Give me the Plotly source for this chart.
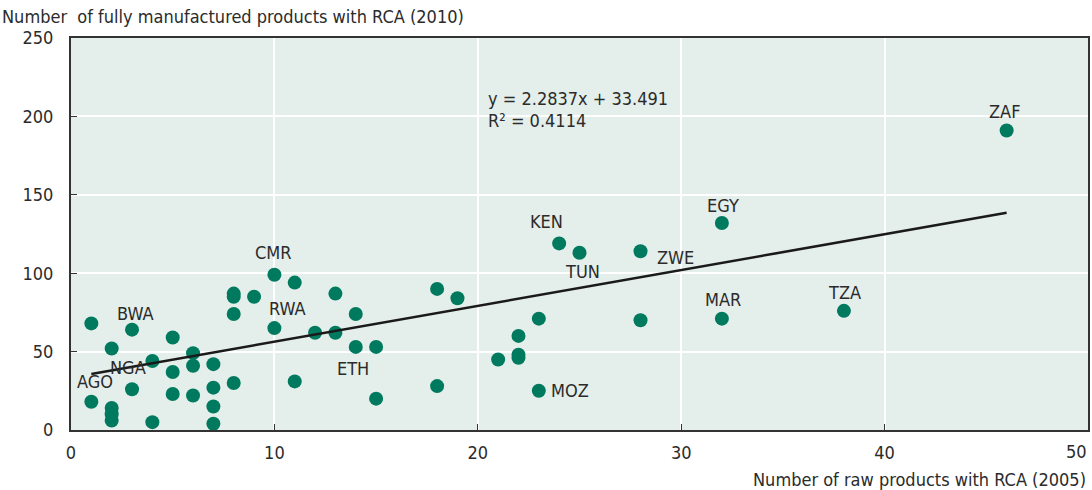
import plotly.graph_objects as go

# Raw products with RCA (2005) vs fully manufactured products with RCA (2010)
raw_2005 = [1, 3, 2, 5, 6, 4, 7, 6, 5, 1, 3, 2, 2, 2, 4, 5, 6, 7, 7, 7,
            8, 8, 8, 8, 9, 10, 10, 11, 11, 12, 13, 13, 14, 14, 15, 15,
            18, 19, 18, 21, 22, 22, 22, 23, 23, 24, 25, 28, 28, 32, 32, 38, 46]
manuf_2010 = [68, 64, 52, 59, 49, 44, 42, 41, 37, 18, 26, 14, 10, 6, 5, 23, 22, 27, 15, 4,
              30, 87, 85, 74, 85, 65, 99, 31, 94, 62, 62, 87, 74, 53, 53, 20,
              90, 84, 28, 45, 48, 46, 60, 71, 25, 119, 113, 114, 70, 132, 71, 76, 191]

# Axis ticks
x_ticks = [0, 10, 20, 30, 40, 50]
y_ticks = [0, 50, 100, 150, 200, 250]

# Country labels and where each one is written
label_text = ["AGO", "NGA", "BWA", "CMR", "RWA", "ETH", "KEN", "TUN", "ZWE",
              "MOZ", "EGY", "MAR", "TZA", "ZAF"]
label_x = [1.2, 2.8, 3.15, 9.96, 10.65, 13.84, 23.36, 25.17, 29.7,
           24.55, 32.04, 32.04, 38.03, 45.9]
label_y = [31.2, 40, 74.6, 112.9, 77.8, 39.5, 132.7, 100.8, 109.7,
           25.5, 142.9, 83.5, 87.4, 203.4]

# Linear fit reported on the chart
slope, intercept, r2 = 2.2837, 33.491, 0.4114
fit_x = [1, 46]
fit_y = [slope * v + intercept for v in fit_x]

FONT = "DejaVu Sans Condensed, Liberation Sans Narrow, Arial Narrow, sans-serif"
FS = 18
TEXT = "#2b2b2b"
GREEN = "#007a5f"

fig = go.Figure()
fig.add_trace(go.Scatter(
    x=raw_2005, y=manuf_2010, mode="markers",
    marker=dict(size=14, color=GREEN, line=dict(width=0)),
    hoverinfo="x+y", showlegend=False,
))
fig.add_trace(go.Scatter(
    x=fit_x, y=fit_y, mode="lines",
    line=dict(color="#1a1a1a", width=2.5), hoverinfo="skip", showlegend=False,
))

for t, lx, ly in zip(label_text, label_x, label_y):
    fig.add_annotation(x=lx, y=ly, text=t, showarrow=False,
                       font=dict(family=FONT, size=FS, color=TEXT))

fig.add_annotation(x=20.4, y=211.5, text=f"y = {slope}x + {intercept}",
                   xanchor="left", showarrow=False,
                   font=dict(family=FONT, size=FS, color=TEXT))
fig.add_annotation(x=20.4, y=197.5, text=f"R² = {r2}",
                   xanchor="left", showarrow=False,
                   font=dict(family=FONT, size=FS, color=TEXT))

fig.add_annotation(xref="paper", yref="paper", x=-71 / 1019, y=1 + 21 / 392,
                   xanchor="left", yanchor="middle",
                   text="Number  of fully manufactured products with RCA (2010)",
                   showarrow=False, font=dict(family=FONT, size=FS, color=TEXT))
fig.add_annotation(xref="paper", yref="paper", x=1, y=-49 / 392,
                   xanchor="right", yanchor="middle",
                   text="Number of raw products with RCA (2005)",
                   showarrow=False, font=dict(family=FONT, size=FS, color=TEXT))
# last x tick label sits against the page edge, so it is written out separately
fig.add_annotation(xref="x", yref="paper", x=x_ticks[-1], y=-22 / 392,
                   xanchor="right", xshift=1, yanchor="middle", text=str(x_ticks[-1]),
                   showarrow=False, font=dict(family=FONT, size=FS, color=TEXT))

fig.update_layout(
    width=1092, height=490,
    margin=dict(l=71, r=2, t=38, b=60),
    paper_bgcolor="white", plot_bgcolor="#e4eeea",
    font=dict(family=FONT, size=FS, color=TEXT),
)
fig.update_xaxes(
    range=[0, 50], tickvals=x_ticks, ticktext=[str(v) for v in x_ticks[:-1]] + [""],
    showgrid=True, gridcolor="white", gridwidth=2, zeroline=False,
    showline=True, linecolor="#333333", linewidth=2, mirror=True,
    ticks="inside", ticklen=6, tickcolor="#333333",
    ticklabelstandoff=5,
    tickfont=dict(family=FONT, size=FS, color=TEXT),
)
fig.update_yaxes(
    range=[0, 250], tickvals=y_ticks,
    showgrid=True, gridcolor="white", gridwidth=2, zeroline=False,
    showline=True, linecolor="#333333", linewidth=2, mirror=True,
    ticks="inside", ticklen=6, tickcolor="#333333",
    ticklabelstandoff=12,
    tickfont=dict(family=FONT, size=FS, color=TEXT),
)

fig.write_html("out.html")
